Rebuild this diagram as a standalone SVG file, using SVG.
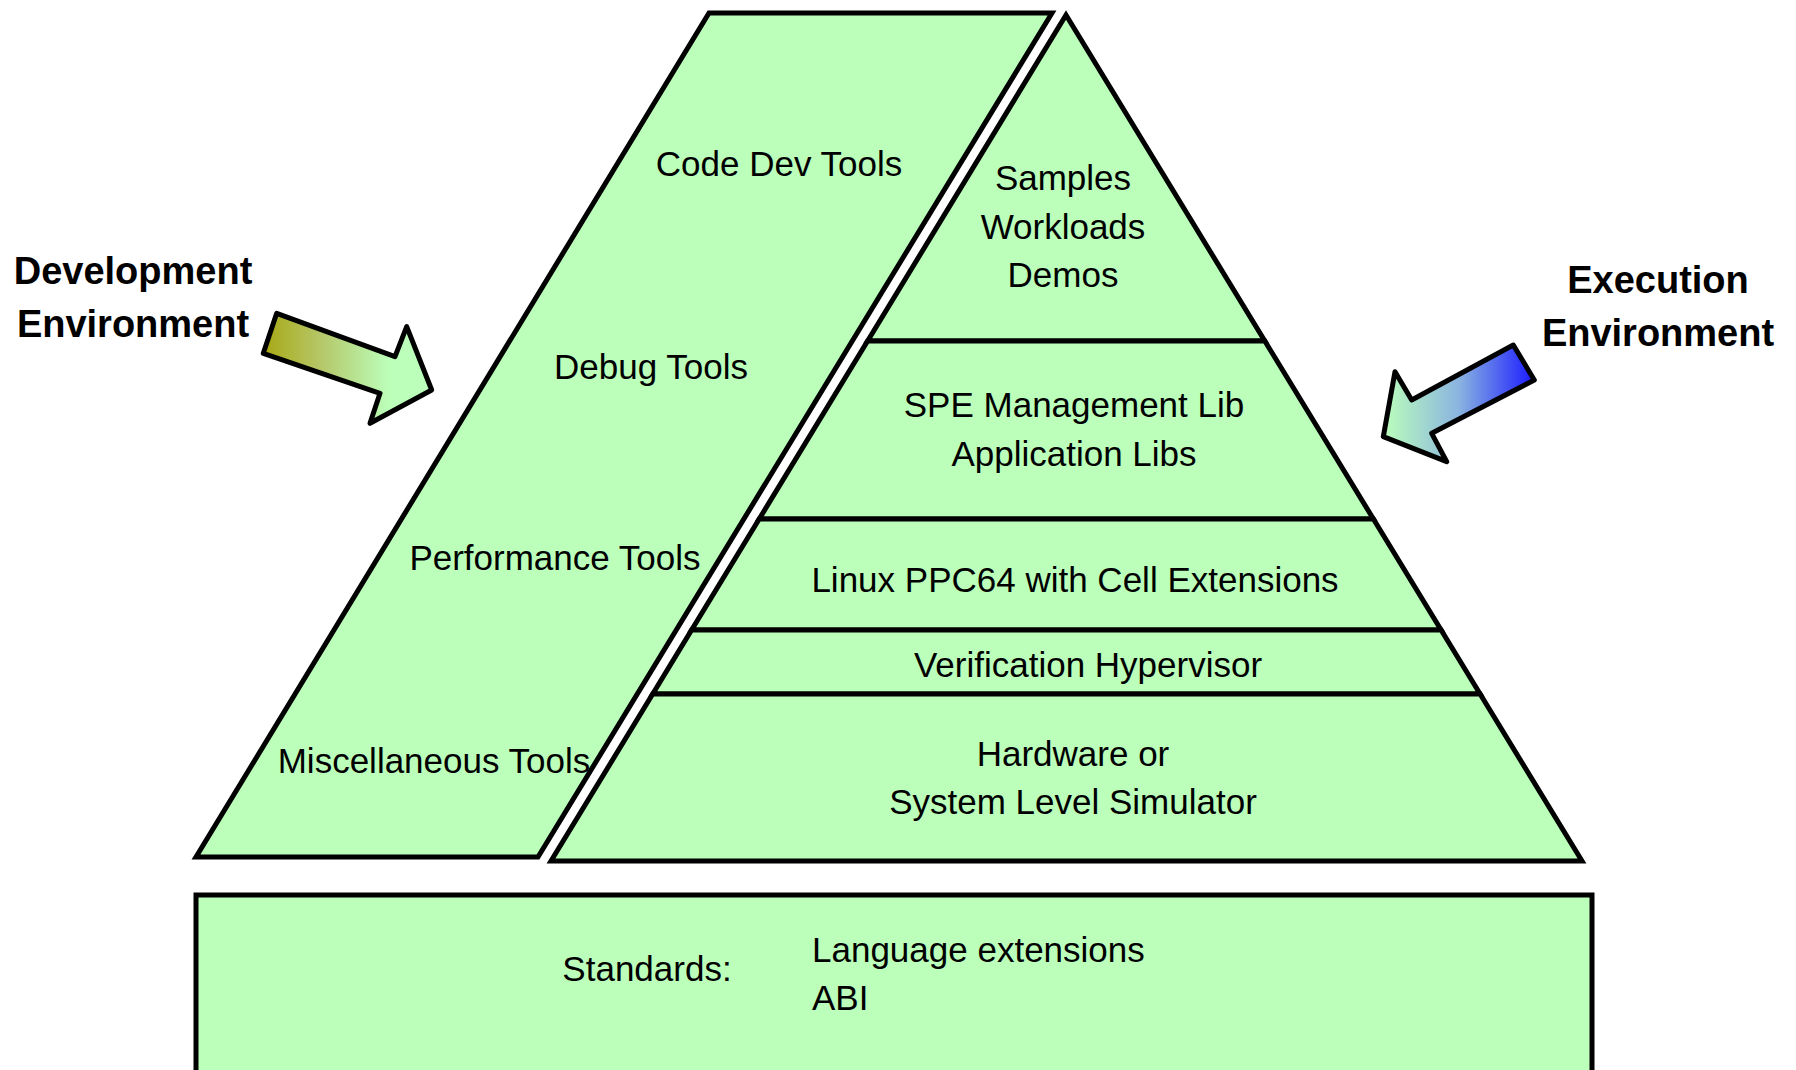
<svg xmlns="http://www.w3.org/2000/svg" width="1796" height="1070" viewBox="0 0 1796 1070">
  <defs>
    <linearGradient id="gradDev" x1="0" y1="0" x2="1" y2="0">
      <stop offset="0" stop-color="#a8a814"/>
      <stop offset="0.35" stop-color="#b5c86a"/>
      <stop offset="0.75" stop-color="#bbffbb"/>
      <stop offset="1" stop-color="#bbffbb"/>
    </linearGradient>
    <linearGradient id="gradExec" x1="0" y1="0" x2="1" y2="0">
      <stop offset="0" stop-color="#bbffbb"/>
      <stop offset="0.5" stop-color="#8ab4e0"/>
      <stop offset="1" stop-color="#1a1aff"/>
    </linearGradient>
    <style>
      .shape { fill: #bbffbb; stroke: #000; stroke-width: 5; stroke-linejoin: miter; }
      .arrow { stroke: #000; stroke-width: 5; stroke-linejoin: round; }
      .t { font-family: "Liberation Sans", Arial, sans-serif; font-size: 35px; fill: #000; text-anchor: middle; }
      .ts { font-family: "Liberation Sans", Arial, sans-serif; font-size: 35px; fill: #000; text-anchor: start; }
      .tb { font-family: "Liberation Sans", Arial, sans-serif; font-size: 38px; font-weight: bold; fill: #000; text-anchor: middle; }
    </style>
  </defs>
  <rect x="0" y="0" width="1796" height="1070" fill="#ffffff"/>

  <!-- Development tools column -->
  <g id="dev-tools">
    <polygon class="shape" points="709,13 1052,13 538,857 196,857"/>
    <text class="t" x="779" y="176">Code Dev Tools</text>
    <text class="t" x="651" y="379">Debug Tools</text>
    <text class="t" x="555" y="570">Performance Tools</text>
    <text class="t" x="434" y="773">Miscellaneous Tools</text>
  </g>

  <!-- Execution stack pyramid, top to bottom -->
  <g id="layer-samples">
    <polygon class="shape" points="1066,15 1264.8,341 867.6,341"/>
    <text class="t" x="1063" y="190">Samples</text>
    <text class="t" x="1063" y="239">Workloads</text>
    <text class="t" x="1063" y="287">Demos</text>
  </g>
  <g id="layer-libs">
    <polygon class="shape" points="867.6,341 1264.8,341 1373.4,519 759.2,519"/>
    <text class="t" x="1074" y="417">SPE Management Lib</text>
    <text class="t" x="1074" y="466">Application Libs</text>
  </g>
  <g id="layer-linux">
    <polygon class="shape" points="759.2,519 1373.4,519 1441.1,630 691.6,630"/>
    <text class="t" x="1075" y="592">Linux PPC64 with Cell Extensions</text>
  </g>
  <g id="layer-hypervisor">
    <polygon class="shape" points="691.6,630 1441.1,630 1480.1,694 652.7,694"/>
    <text class="t" x="1088" y="677">Verification Hypervisor</text>
  </g>
  <g id="layer-hardware">
    <polygon class="shape" points="652.7,694 1480.1,694 1582,861 551,861"/>
    <text class="t" x="1073" y="766">Hardware or</text>
    <text class="t" x="1073" y="814">System Level Simulator</text>
  </g>

  <!-- Standards base -->
  <g id="standards">
    <rect class="shape" x="196" y="895" width="1396" height="190"/>
    <text class="t" x="647" y="981">Standards:</text>
    <text class="ts" x="812" y="962">Language extensions</text>
    <text class="ts" x="812" y="1010">ABI</text>
  </g>

  <!-- Side labels -->
  <g id="label-dev">
    <text class="tb" x="133" y="284">Development</text>
    <text class="tb" x="133" y="337">Environment</text>
  </g>
  <g id="label-exec">
    <text class="tb" x="1658" y="293">Execution</text>
    <text class="tb" x="1658" y="346">Environment</text>
  </g>

  <!-- Pointer arrows -->
  <g id="connectors">
    <polygon class="arrow" fill="url(#gradDev)" points="276.7,313.3 395,356.7 406.7,326.7 431.7,390 370,423.3 380,393.3 263.3,353.3"/>
    <polygon class="arrow" fill="url(#gradExec)" points="1513.3,345 1534.3,380 1431.7,433.3 1446.7,461.7 1383.3,436.7 1395,371.7 1411.7,400"/>
  </g>
</svg>
